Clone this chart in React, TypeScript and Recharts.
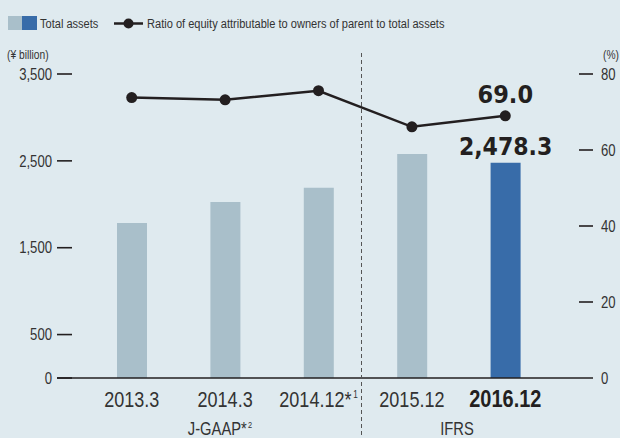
import React from 'react';
import { ComposedChart, Bar, Line, XAxis, YAxis, Cell, LabelList } from 'recharts';

const categories = ['2013.3', '2014.3', '2014.12', '2015.12', '2016.12'];
const totalAssets = [1785, 2025, 2190, 2580, 2478.3];
const equityRatio = [73.8, 73.2, 75.6, 66.1, 69.0];
const leftTicks = [0, 500, 1500, 2500, 3500];
const rightTicks = [0, 20, 40, 60, 80];
const highlightCategory = '2016.12';
const noteCategory = '2014.12';

const data = categories.map((c, i) => ({ period: c, assets: totalAssets[i], ratio: equityRatio[i] }));

const BG = '#dfeaef';
const LIGHT = '#a9bfca';
const DARK = '#386ca9';
const INK = '#231f20';
const TXT = '#333333';
const SANS = "'Liberation Sans', Arial, sans-serif";
const COND = "'DejaVu Sans Condensed', 'DejaVu Sans', sans-serif";

const fmt = (v: number) => v.toLocaleString('en-US');

// Narrow text: Liberation Sans squeezed horizontally
const NText = ({ x, y, size, anchor = 'start', weight = 'normal', sx = 0.82, fill = TXT, dy, children }: any) => (
  <text
    transform={`translate(${x},${y}) scale(${sx},1)`}
    x={0}
    y={0}
    dy={dy}
    textAnchor={anchor}
    fontFamily={SANS}
    fontSize={size}
    fontWeight={weight}
    fill={fill}
  >
    {children}
  </text>
);

const LeftTick = (props: any) => {
  const { x, y, payload } = props;
  return (
    <g>
      <line x1={x} x2={x + 15} y1={y} y2={y} stroke={INK} strokeWidth={1.6} />
      <NText x={x - 5} y={y} dy="0.36em" anchor="end" size={16}>
        {fmt(payload.value)}
      </NText>
    </g>
  );
};

const RightTick = (props: any) => {
  const { x, y, payload } = props;
  return (
    <g>
      {payload.value !== 0 && <line x1={x - 14} x2={x} y1={y} y2={y} stroke={INK} strokeWidth={1.6} />}
      <NText x={x + 8} y={y} dy="0.36em" anchor="start" size={16}>
        {payload.value}
      </NText>
    </g>
  );
};

const XTick = (props: any) => {
  const { x, y, payload } = props;
  const v = payload.value;
  if (v === highlightCategory) {
    return (
      <NText x={x} y={y + 29} anchor="middle" size={23.5} weight="bold" sx={0.85} fill={INK}>
        {v}
      </NText>
    );
  }
  if (v === noteCategory) {
    return (
      <NText x={x} y={y + 29} anchor="middle" size={22}>
        <tspan>{v}*</tspan>
        <tspan fontSize={10} dx={2} dy={-9}>1</tspan>
      </NText>
    );
  }
  return (
    <NText x={x} y={y + 29} anchor="middle" size={22}>
      {v}
    </NText>
  );
};

const LineLabel = (props: any) => {
  const { x, y, index, value } = props;
  if (categories[index] !== highlightCategory) return null;
  return (
    <text x={x} y={y - 13} textAnchor="middle" fontFamily={COND} fontStretch="condensed" fontWeight="bold" fontSize={25} fill={INK}>
      {value.toFixed(1)}
    </text>
  );
};

const BarLabel = (props: any) => {
  const { x, y, width, index, value } = props;
  if (categories[index] !== highlightCategory) return null;
  return (
    <text x={x + width / 2} y={y - 8} textAnchor="middle" fontFamily={COND} fontStretch="condensed" fontWeight="bold" fontSize={24.5} fill={INK}>
      {value.toLocaleString('en-US', { minimumFractionDigits: 1, maximumFractionDigits: 1 })}
    </text>
  );
};

export default function App() {
  return (
    <div style={{ position: 'absolute', left: 0, top: 0, width: 620, height: 438, background: BG, overflow: 'hidden' }}>
      <div style={{ position: 'absolute', left: 0, top: 0 }}>
        <ComposedChart width={620} height={438} data={data} margin={{ top: 74, right: 0, bottom: 0, left: 0 }}>
          <XAxis
            dataKey="period"
            xAxisId="x"
            height={60}
            padding={{ left: 28, right: 41 }}
            axisLine={{ stroke: INK, strokeWidth: 1.6 }}
            tickLine={false}
            tickSize={0}
            tickMargin={0}
            interval={0}
            tick={<XTick />}
          />
          <YAxis
            yAxisId="left"
            orientation="left"
            width={57}
            domain={[0, 3500]}
            ticks={leftTicks}
            axisLine={false}
            tickLine={false}
            tickSize={0}
            tickMargin={0}
            tick={<LeftTick />}
          />
          <YAxis
            yAxisId="right"
            orientation="right"
            width={27}
            domain={[0, 80]}
            ticks={rightTicks}
            axisLine={false}
            tickLine={false}
            tickSize={0}
            tickMargin={0}
            tick={<RightTick />}
          />
          <Bar dataKey="assets" xAxisId="x" yAxisId="left" barSize={30} isAnimationActive={false}>
            {data.map((d) => (
              <Cell key={d.period} fill={d.period === highlightCategory ? DARK : LIGHT} />
            ))}
            <LabelList dataKey="assets" content={<BarLabel />} />
          </Bar>
          <Line
            dataKey="ratio"
            xAxisId="x"
            yAxisId="right"
            stroke={INK}
            strokeWidth={2.5}
            dot={{ r: 5.5, fill: INK, stroke: INK, strokeWidth: 0 }}
            isAnimationActive={false}
          >
            <LabelList dataKey="ratio" content={<LineLabel />} />
          </Line>
        </ComposedChart>
      </div>
      <svg width={620} height={438} style={{ position: 'absolute', left: 0, top: 0, pointerEvents: 'none' }}>
        <rect x={8} y={16} width={14} height={14} fill={LIGHT} />
        <rect x={22} y={16} width={15} height={14} fill={DARK} />
        <NText x={40} y={28} size={13.5}>Total assets</NText>
        <line x1={114} x2={143} y1={23.5} y2={23.5} stroke={INK} strokeWidth={2.5} />
        <circle cx={128.5} cy={23.5} r={5} fill={INK} />
        <NText x={147} y={28} size={13.5}>Ratio of equity attributable to owners of parent to total assets</NText>
        <NText x={7} y={59} size={12.5}>(¥ billion)</NText>
        <NText x={603} y={59} size={12.5}>(%)</NText>
        <line x1={361.5} x2={361.5} y1={53} y2={438} stroke="#555" strokeWidth={1} strokeDasharray="4 3" />
        <NText x={220} y={435} anchor="middle" size={18}>
          <tspan>J-GAAP*</tspan>
          <tspan fontSize={9} dx={1.5} dy={-7}>2</tspan>
        </NText>
        <NText x={457} y={435} anchor="middle" size={18}>IFRS</NText>
      </svg>
    </div>
  );
}
